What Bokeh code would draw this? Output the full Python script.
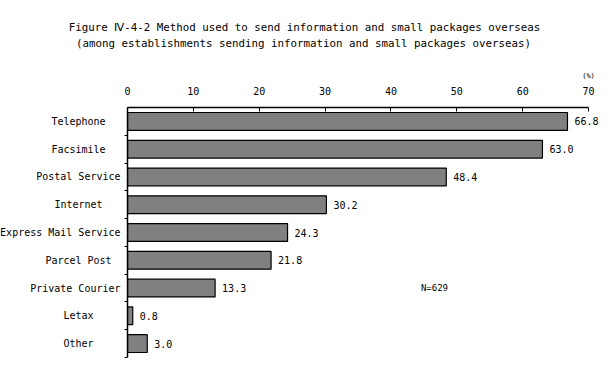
from bokeh.plotting import figure
from bokeh.models import Range1d, FixedTicker, Label, LabelSet, ColumnDataSource
from bokeh.layouts import column, row
from bokeh.core.properties import value
from bokeh.embed import file_html
from bokeh.resources import INLINE

# ---- data ----
categories = ["Telephone", "Facsimile", "Postal Service", "Internet",
              "Express Mail Service", "Parcel Post", "Private Courier",
              "Letax", "Other"]
values = [66.8, 63.0, 48.4, 30.2, 24.3, 21.8, 13.3, 0.8, 3.0]
value_labels = ["66.8", "63.0", "48.4", "30.2", "24.3", "21.8", "13.3", "0.8", "3.0"]
x_ticks = [0, 10, 20, 30, 40, 50, 60, 70]
title_lines = ["Figure \u2163-4-2 Method used to send information and small packages overseas",
               "(among establishments sending information and small packages overseas)"]
note_text = "N=629"
unit_text = "(%)"

FONT = "DejaVu Sans Mono"
n = len(categories)
centers = [i + 0.5 for i in range(n)]
boundaries = list(range(1, n + 1))

TOP_H = 80          # height of the title strip
MAIN_H = 285        # height of the chart row
LAB_W = 121         # width of the category-label strip
MAIN_W = 487        # width of the bar chart (incl. its left axis border)
BORDER_TOP = 27     # room for the top axis
BORDER_BOTTOM = 8
LAB_FS = 10         # px, category label font size
CHAR_W = 0.602 * LAB_FS
LAB_CENTER = 78
LAB_RIGHT = 120

def bare(fig):
    fig.outline_line_color = None
    fig.xgrid.visible = False
    fig.ygrid.visible = False
    for a in fig.axis:
        a.visible = False
    return fig

# ---- title strip ----
top = figure(width=LAB_W + MAIN_W, height=TOP_H, output_backend="svg",
             toolbar_location=None, x_range=Range1d(0, LAB_W + MAIN_W),
             y_range=Range1d(TOP_H, 0), min_border=0)
bare(top)
top.add_layout(Label(x=304, y=27, text=title_lines[0], text_align="center",
                     text_baseline="middle", text_font=FONT, text_font_size="10.8px",
                     text_color="black"))
top.add_layout(Label(x=303, y=42.5, text=title_lines[1], text_align="center",
                     text_baseline="middle", text_font=FONT, text_font_size="10.8px",
                     text_color="black"))
top.add_layout(Label(x=588, y=75, text=unit_text, text_align="center",
                     text_baseline="middle", text_font=FONT, text_font_size="7px",
                     text_color="black"))

# ---- bar chart ----
y_range = Range1d(n, 0)
p = figure(width=MAIN_W, height=MAIN_H, output_backend="svg", toolbar_location=None,
           x_range=Range1d(0, 73.03), y_range=y_range,
           x_axis_location="above",
           min_border_left=6, min_border_right=0, min_border_top=BORDER_TOP,
           min_border_bottom=BORDER_BOTTOM)
p.outline_line_color = None
p.xgrid.visible = False
p.ygrid.visible = False

src = ColumnDataSource(dict(y=centers, v=values, vl=value_labels))
p.hbar(y="y", left=0, right="v", height=0.64, source=src,
       fill_color="#808080", line_color="black", line_width=1.2)

xa = p.xaxis[0]
xa.ticker = FixedTicker(ticks=x_ticks)
xa.bounds = (0, 70)
xa.major_tick_in = 4
xa.major_tick_out = 0
xa.minor_tick_line_color = None
xa.major_label_standoff = 13
xa.major_label_text_font = FONT
xa.major_label_text_font_size = "10px"
xa.major_label_text_color = "black"
xa.axis_line_color = "black"
xa.axis_line_width = 1.5

ya = p.yaxis[0]
ya.ticker = FixedTicker(ticks=boundaries)
ya.major_tick_in = 0
ya.major_tick_out = 3
ya.minor_tick_line_color = None
ya.major_label_standoff = 0
ya.major_label_text_font_size = "0px"
ya.major_label_text_color = None
ya.axis_line_color = "black"
ya.axis_line_width = 1.5

p.add_layout(LabelSet(x="v", y="y", text="vl", source=src, x_offset=7,
                      text_align="left", text_baseline="middle",
                      text_font=value(FONT), text_font_size=value("10px"),
                      text_color="black"))
p.add_layout(Label(x=46.6, y=centers[6], text=note_text, text_align="center",
                   text_baseline="middle", text_font=FONT, text_font_size="9px",
                   text_color="black"))

# ---- category labels strip (shares the bar chart's y scale) ----
# centred labels; a label too wide for the strip is pushed left so it ends at the axis
lab_x = [min(LAB_CENTER, LAB_RIGHT - len(c) * CHAR_W / 2) for c in categories]
lab = figure(width=LAB_W, height=MAIN_H, output_backend="svg", toolbar_location=None,
             x_range=Range1d(0, LAB_W), y_range=y_range,
             min_border_left=0, min_border_right=0, min_border_top=BORDER_TOP,
             min_border_bottom=BORDER_BOTTOM)
bare(lab)
lab.text(x=lab_x, y=centers, text=categories, text_align="center",
         text_baseline="middle", text_font=value(FONT),
         text_font_size=f"{LAB_FS}px", text_color="black")

layout = column(top, row(lab, p, spacing=0), spacing=0)
open("out.html", "w").write(file_html(layout, INLINE))
